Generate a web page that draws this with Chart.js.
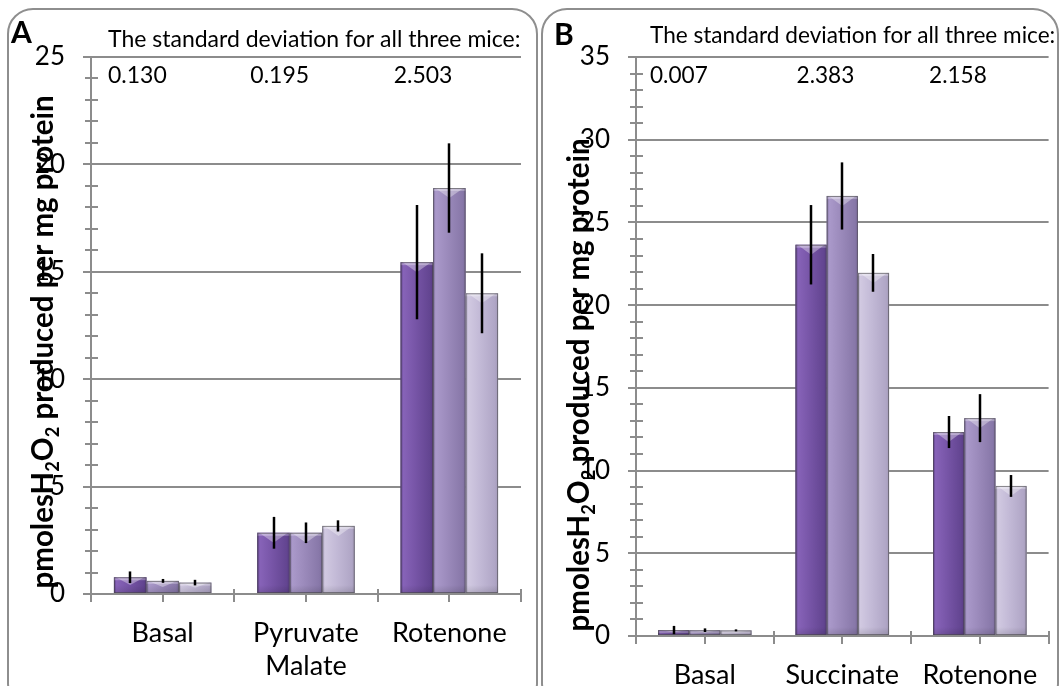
<!DOCTYPE html>
<html>
<head>
<meta charset="utf-8">
<script src="https://cdn.jsdelivr.net/npm/chart.js@4/dist/chart.umd.min.js"></script>
<style>
  html, body { margin: 0; padding: 0; background: #fff; width: 1061px; height: 686px; overflow: hidden; }
  .panel { position: absolute; border: 2px solid #8e8e8e; border-radius: 26px; box-sizing: border-box; }
  #panelA { left: 7px; top: 8px; width: 531px; height: 702px; }
  #panelB { left: 541px; top: 8px; width: 518px; height: 702px; }
  canvas { position: absolute; top: 0; }
  #chartA { left: 0; }
  #chartB { left: 537px; }
</style>
</head>
<body>
<div class="panel" id="panelA"></div>
<div class="panel" id="panelB"></div>
<canvas id="chartA" width="537" height="686"></canvas>
<canvas id="chartB" width="524" height="686"></canvas>
<script>
// ---- Panel A: pyruvate/malate driven H2O2 production ----
const categoriesA = ['Basal', ['Pyruvate', 'Malate'], 'Rotenone'];
const mouse1A = [0.78, 2.85, 15.45];
const mouse2A = [0.61, 2.85, 18.90];
const mouse3A = [0.53, 3.17, 14.00];
const errorA1 = [0.27, 0.74, 2.66];
const errorA2 = [0.09, 0.48, 2.08];
const errorA3 = [0.13, 0.26, 1.86];
const sdA = ['0.130', '0.195', '2.503'];
const yTicksA = { min: 0, max: 25, major: 5, minor: 1 };

// ---- Panel B: succinate driven H2O2 production ----
const categoriesB = ['Basal', 'Succinate', 'Rotenone'];
const mouse1B = [0.36, 23.65, 12.33];
const mouse2B = [0.35, 26.60, 13.17];
const mouse3B = [0.34, 21.95, 9.07];
const errorB1 = [0.25, 2.40, 0.97];
const errorB2 = [0.11, 2.03, 1.45];
const errorB3 = [0.06, 1.14, 0.66];
const sdB = ['0.007', '2.383', '2.158'];
const yTicksB = { min: 0, max: 35, major: 5, minor: 1 };

const headerText = 'The standard deviation for all three mice:';
const FAMILY = "Lato, 'Open Sans', sans-serif";
const AXIS_GREY = '#8c8c8c';

// shading for the three mice: [edge, light, mid, dark]
const palettes = [
  ['#583b84', '#8763b8', '#7755a7', '#634591'],
  ['#7d6d9d', '#aa99ca', '#9b8abb', '#8878a9'],
  ['#a39ab8', '#d1c9e1', '#c2b9d6', '#b0a6c6']
];

// tick marks that cross the axes (minor and major)
const axisTicks = {
  id: 'axisTicks',
  beforeDatasetsDraw(chart) {
    const { ctx, chartArea: a } = chart;
    const x = chart.scales.x, y = chart.scales.y;
    const spec = chart.options.plugins.axisTicks;
    ctx.save();
    ctx.strokeStyle = AXIS_GREY;
    ctx.lineWidth = 2;
    ctx.beginPath();
    for (let v = spec.min; v <= spec.max; v += spec.minor) {
      const py = Math.round(y.getPixelForValue(v));
      if (v % spec.major === 0) {
        ctx.moveTo(a.left - 8, py); ctx.lineTo(a.left, py);
      } else {
        ctx.moveTo(a.left - 6, py); ctx.lineTo(a.left + 7, py);
      }
    }
    const n = chart.data.labels.length;
    for (let k = 0; k <= 2 * n; k++) {
      const px = Math.round(x.getPixelForValue(k / 2 - 0.5));
      ctx.moveTo(px, a.bottom - 5); ctx.lineTo(px, a.bottom + 8);
    }
    ctx.stroke();
    ctx.restore();
  }
};

// bevelled bar faces plus error bars
const bevelBars = {
  id: 'bevelBars',
  afterDatasetsDraw(chart) {
    const { ctx } = chart;
    const y = chart.scales.y;
    ctx.save();
    chart.data.datasets.forEach((ds, di) => {
      const meta = chart.getDatasetMeta(di);
      const pal = palettes[di];
      meta.data.forEach((bar, i) => {
        const p = bar.getProps(['x', 'y', 'base', 'width'], true);
        const x0 = p.x - p.width / 2, x1 = p.x + p.width / 2;
        const top = p.y, bot = p.base, h = bot - top;
        const g = ctx.createLinearGradient(x0, 0, x1, 0);
        g.addColorStop(0, pal[0]);
        g.addColorStop(0.08, pal[1]);
        g.addColorStop(0.45, pal[2]);
        g.addColorStop(0.9, pal[3]);
        g.addColorStop(1, pal[0]);
        ctx.fillStyle = g;
        ctx.fillRect(x0, top, p.width, h);
        // top bevel
        const b = Math.min(10, h / 2);
        ctx.fillStyle = 'rgba(255,255,255,0.28)';
        ctx.fillRect(x0, top, p.width, Math.min(3, h));
        ctx.beginPath();
        ctx.moveTo(x0 + 2, top);
        ctx.lineTo(x1 - 2, top);
        ctx.lineTo(p.x, top + b);
        ctx.closePath();
        ctx.fillStyle = 'rgba(255,255,255,0.35)';
        ctx.fill();
        // bottom shade
        const sg = ctx.createLinearGradient(0, bot - 8, 0, bot);
        sg.addColorStop(0, 'rgba(0,0,0,0)');
        sg.addColorStop(1, 'rgba(0,0,0,0.12)');
        ctx.fillStyle = sg;
        ctx.fillRect(x0, Math.max(top, bot - 8), p.width, Math.min(8, h));
        ctx.strokeStyle = 'rgba(70,70,70,0.6)';
        ctx.lineWidth = 1;
        ctx.strokeRect(x0 + 0.5, top + 0.5, p.width - 1, h - 1);
      });
    });
    // error bars
    ctx.strokeStyle = '#000';
    ctx.lineWidth = 2.5;
    chart.data.datasets.forEach((ds, di) => {
      const meta = chart.getDatasetMeta(di);
      meta.data.forEach((bar, i) => {
        const v = ds.data[i], e = ds.errors[i];
        const px = Math.round(bar.x);
        ctx.beginPath();
        ctx.moveTo(px, y.getPixelForValue(v + e));
        ctx.lineTo(px, y.getPixelForValue(v - e));
        ctx.stroke();
      });
    });
    ctx.restore();
  }
};

// header, SD row, panel letter and rotated axis title
const panelText = {
  id: 'panelText',
  afterDraw(chart) {
    const { ctx } = chart;
    const o = chart.options.plugins.panelText;
    const x = chart.scales.x;
    ctx.save();
    ctx.fillStyle = '#000';
    ctx.textBaseline = 'middle';
    ctx.textAlign = 'left';
    ctx.font = `bold 30px ${FAMILY}`;
    ctx.fillText(o.letter, o.letterX, o.letterY);
    ctx.font = `${o.headerSize}px ${FAMILY}`;
    ctx.fillText(headerText, o.headerX, o.headerY);
    o.sd.forEach((s, i) => {
      const left = x.getPixelForValue(i - 0.5) + o.sdOffset[i];
      ctx.fillText(s, left, o.sdY);
    });
    // axis title with subscripts
    const size = o.titleSize;
    const parts = [
      ['pmolesH', 1, 0], ['2', 0.62, 0.22], ['O', 1, 0], ['2', 0.62, 0.22],
      [' produced per mg protein', 1, 0]
    ];
    ctx.translate(o.titleX, o.titleY);
    ctx.rotate(-Math.PI / 2);
    ctx.textBaseline = 'alphabetic';
    let total = 0;
    const widths = parts.map(pt => {
      ctx.font = `bold ${size * pt[1]}px ${FAMILY}`;
      const w = ctx.measureText(pt[0]).width;
      total += w;
      return w;
    });
    let cx = -total / 2;
    parts.forEach((pt, k) => {
      ctx.font = `bold ${size * pt[1]}px ${FAMILY}`;
      ctx.fillText(pt[0], cx, size * 0.36 + pt[2] * size);
      cx += widths[k];
    });
    ctx.restore();
  }
};

function buildChart(id, cats, series, errors, ticks, geo, text) {
  const canvas = document.getElementById(id);
  const W = canvas.width, H = canvas.height;
  const xAxisH = H - geo.bottom;
  return new Chart(canvas, {
    type: 'bar',
    data: {
      labels: cats,
      datasets: series.map((d, i) => ({
        label: 'Mouse ' + (i + 1),
        data: d,
        errors: errors[i],
        backgroundColor: palettes[i][2],
        borderWidth: 0,
        categoryPercentage: 0.68,
        barPercentage: 1.0
      }))
    },
    options: {
      responsive: false,
      animation: false,
      events: [],
      layout: { padding: { top: geo.top, right: W - geo.right, bottom: 0, left: 0 } },
      plugins: {
        legend: { display: false },
        tooltip: { enabled: false },
        axisTicks: ticks,
        panelText: text
      },
      scales: {
        x: {
          grid: { display: false, drawTicks: false },
          border: { display: true, color: AXIS_GREY, width: 2 },
          ticks: {
            color: '#000', padding: 23, maxRotation: 0, autoSkip: false,
            font: { family: FAMILY, size: 27, lineHeight: 1.22 }
          },
          afterFit(s) { s.height = xAxisH; }
        },
        y: {
          min: ticks.min, max: ticks.max,
          grid: {
            color: c => (c.tick && c.tick.value % ticks.major === 0) ? AXIS_GREY : 'rgba(0,0,0,0)',
            lineWidth: 2, drawTicks: false
          },
          border: { display: true, color: AXIS_GREY, width: 2 },
          ticks: {
            stepSize: ticks.minor, autoSkip: false, padding: 26, color: '#000',
            font: { family: FAMILY, size: 26 },
            callback: v => (v % ticks.major === 0 ? v : '')
          },
          afterFit(s) { s.width = geo.left; }
        }
      }
    },
    plugins: [axisTicks, bevelBars, panelText]
  });
}

buildChart('chartA', categoriesA, [mouse1A, mouse2A, mouse3A], [errorA1, errorA2, errorA3], yTicksA,
  { left: 91, right: 521, top: 57, bottom: 594 },
  { letter: 'A', letterX: 11, letterY: 33, headerX: 108, headerY: 40, headerSize: 23,
    sd: sdA, sdOffset: [17, 16, 16], sdY: 76, titleX: 42, titleY: 342, titleSize: 29.5 });

buildChart('chartB', categoriesB, [mouse1B, mouse2B, mouse3B], [errorB1, errorB2, errorB3], yTicksB,
  { left: 99, right: 519, top: 57, bottom: 636 },
  { letter: 'B', letterX: 17, letterY: 35, headerX: 113, headerY: 36, headerSize: 22.6,
    sd: sdB, sdOffset: [14, 23, 18], sdY: 76, titleX: 41, titleY: 385, titleSize: 29.5 });
</script>
</body>
</html>
